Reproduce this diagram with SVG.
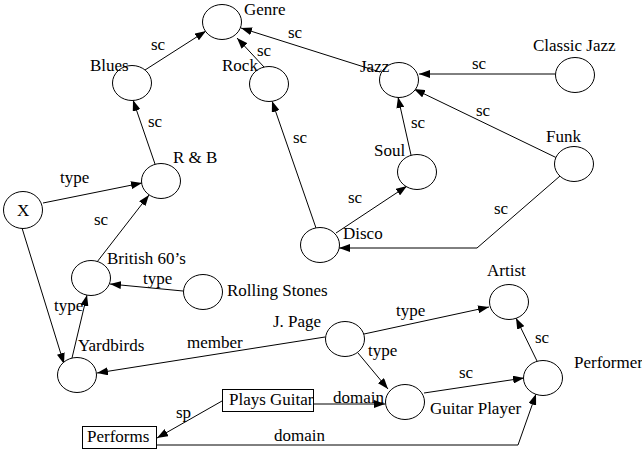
<svg xmlns="http://www.w3.org/2000/svg" width="642" height="451" viewBox="0 0 642 451">
<style>
text{font-family:"Liberation Serif","Times New Roman",serif;font-size:17px;fill:#000}
ellipse{fill:#fff;stroke:#000;stroke-width:1}
.box{fill:#fff;stroke:#000;stroke-width:1}
.e path{fill:none;stroke:#000;stroke-width:1;marker-end:url(#a)}
</style>
<defs>
<marker id="a" markerUnits="userSpaceOnUse" markerWidth="11" markerHeight="8" refX="11" refY="4" orient="auto">
<path d="M0,0 L11,4 L0,8 z" fill="#000"/>
</marker>
</defs>
<rect width="642" height="451" style="fill:#fff;stroke:none"/>
<g class="e" id="edges">
<path d="M145,70 L206,31"/>
<path d="M264,67 L237,38"/>
<path d="M380,72 L241,28"/>
<path d="M155,164 L133,100"/>
<path d="M43,203 L142,183"/>
<path d="M97,262 L149,195"/>
<path d="M316,228 L272,101"/>
<path d="M336,233 L407,186"/>
<path d="M411,155 L398,97"/>
<path d="M555,74 L419,74"/>
<path d="M557,158 L414,89"/>
<path d="M560,176 L477,248 L339,248"/>
<path d="M22,228 L64,364"/>
<path d="M72,358 L87,295"/>
<path d="M183,291 L110,284"/>
<path d="M325,337 L97,373"/>
<path d="M364,334 L489,307"/>
<path d="M358,353 L388,389"/>
<path d="M424,393 L524,378"/>
<path d="M537,361 L516,318"/>
<path d="M313,404 L385,404"/>
<path d="M222,401 L157,438"/>
<path d="M156,445 L518,445 L536,394"/>
</g>
<g id="edge-labels">
<text x="151" y="50">sc</text>
<text x="257" y="56">sc</text>
<text x="288" y="38">sc</text>
<text x="148" y="127">sc</text>
<text x="60" y="183">type</text>
<text x="94" y="225">sc</text>
<text x="293" y="143">sc</text>
<text x="348" y="203">sc</text>
<text x="411" y="128">sc</text>
<text x="472" y="69">sc</text>
<text x="476" y="116">sc</text>
<text x="494" y="214">sc</text>
<text x="54" y="311">type</text>
<text x="143" y="284">type</text>
<text x="187" y="348">member</text>
<text x="396" y="316">type</text>
<text x="368" y="356">type</text>
<text x="459" y="378">sc</text>
<text x="535" y="343">sc</text>
<text x="333" y="403">domain</text>
<text x="176" y="418">sp</text>
<text x="274" y="441">domain</text>
</g>
<g id="genre"><ellipse cx="222" cy="22" rx="19.5" ry="17.5"/><text x="244" y="15">Genre</text></g>
<g id="blues"><ellipse cx="132" cy="83" rx="19.5" ry="17.5"/><text x="90" y="71">Blues</text></g>
<g id="rock"><ellipse cx="269" cy="84" rx="19.5" ry="17.5"/><text x="222" y="71">Rock</text></g>
<g id="rnb"><ellipse cx="161" cy="181" rx="19.5" ry="17.5"/><text x="173" y="163">R &amp; B</text></g>
<g id="x"><ellipse cx="23" cy="210" rx="19.5" ry="18.5"/><text x="17" y="216">X</text></g>
<g id="jazz"><ellipse cx="399" cy="80" rx="19.5" ry="17.5"/><text x="360" y="72">Jazz</text></g>
<g id="classic-jazz"><ellipse cx="575" cy="75" rx="19.5" ry="17.5"/><text x="533" y="51">Classic Jazz</text></g>
<g id="soul"><ellipse cx="417" cy="172" rx="19.5" ry="17.5"/><text x="374" y="156">Soul</text></g>
<g id="funk"><ellipse cx="574" cy="164" rx="19.5" ry="17.5"/><text x="546" y="142">Funk</text></g>
<g id="disco"><ellipse cx="320" cy="245" rx="19.5" ry="17.5"/><text x="343" y="239">Disco</text></g>
<g id="british60s"><ellipse cx="91" cy="278" rx="19.5" ry="17.5"/><text x="107" y="264">British 60’s</text></g>
<g id="rolling-stones"><ellipse cx="203" cy="292" rx="19.5" ry="17.5"/><text x="227" y="296">Rolling Stones</text></g>
<g id="yardbirds"><ellipse cx="77" cy="375" rx="19.5" ry="17.5"/><text x="78" y="351">Yardbirds</text></g>
<g id="jpage"><ellipse cx="345" cy="339" rx="19.5" ry="17.5"/><text x="273" y="327">J. Page</text></g>
<g id="artist"><ellipse cx="509" cy="302" rx="19.5" ry="17.5"/><text x="487" y="276">Artist</text></g>
<g id="guitar-player"><ellipse cx="405" cy="402" rx="19.5" ry="17.5"/><text x="430" y="414">Guitar Player</text></g>
<g id="performer"><ellipse cx="543" cy="378" rx="19.5" ry="17.5"/><text x="574" y="368">Performer</text></g>
<g id="plays-guitar"><rect class="box" x="222.5" y="389.5" width="91" height="22"/><text x="229" y="405">Plays Guitar</text></g>
<g id="performs"><rect class="box" x="82.5" y="426.5" width="74" height="22"/><text x="87" y="442">Performs</text></g>
</svg>
